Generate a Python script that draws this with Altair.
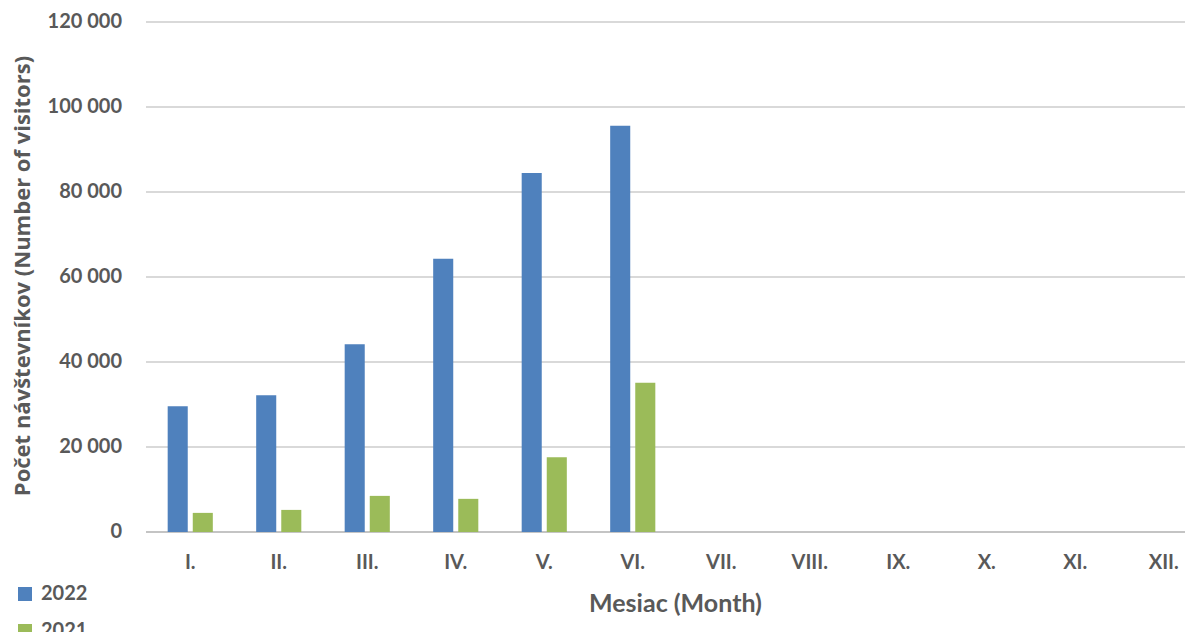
import altair as alt
import pandas as pd

months = ["I.", "II.", "III.", "IV.", "V.", "VI.", "VII.", "VIII.", "IX.", "X.", "XI.", "XII."]
series = ["2022", "2021"]
v2022 = [29600, 32200, 44200, 64300, 84500, 95600]
v2021 = [4500, 5200, 8500, 7800, 17600, 35100]
colors = ["#4F81BD", "#9BBB59"]
y_ticks = [0, 20000, 40000, 60000, 80000, 100000, 120000]
y_title = "Počet návštevníkov (Number of visitors)"
x_title = "Mesiac (Month)"

rows = []
for m, v in zip(months, v2022):
    rows.append({"Mesiac": m, "Rok": "2022", "Pocet": v})
for m, v in zip(months, v2021):
    rows.append({"Mesiac": m, "Rok": "2021", "Pocet": v})
df = pd.DataFrame(rows)
grid_df = pd.DataFrame({"Pocet": y_ticks})
title_df = pd.DataFrame({"t": [y_title]})

grey = "#595959"
yscale = alt.Scale(domain=[0, 120000])

grid = alt.Chart(grid_df).mark_rule(strokeWidth=2).encode(
    y=alt.Y("Pocet:Q", scale=yscale, axis=None),
    x=alt.value(0),
    x2=alt.value(1062),
    color=alt.condition("datum.Pocet == 0", alt.value("#c4c4c4"), alt.value("#d9d9d9")),
)

ylabels = alt.Chart(grid_df).transform_calculate(
    lab="replace(format(datum.Pocet, ',d'), ',', ' ')"
).mark_text(
    align="right", baseline="middle", font="Lato", fontSize=20, fontWeight="bold", color=grey
).encode(
    y=alt.Y("Pocet:Q", scale=yscale, axis=None),
    x=alt.value(-24),
    text="lab:N",
)

ytitle = alt.Chart(title_df).mark_text(
    angle=270, align="center", baseline="middle", font="Open Sans",
    fontSize=22, fontWeight="bold", color=grey
).encode(
    x=alt.value(-123),
    y=alt.value(254),
    text="t:N",
)

bars = alt.Chart(df).mark_bar().encode(
    x=alt.X(
        "Mesiac:N",
        sort=months,
        scale=alt.Scale(domain=months, range=[0, 1062], paddingInner=0.49, paddingOuter=0.245),
        axis=alt.Axis(
            title=x_title,
            labelAngle=0,
            labelFont="Lato",
            labelFontSize=20,
            labelFontWeight="bold",
            labelColor=grey,
            labelPadding=20,
            ticks=False,
            grid=False,
            domain=False,
            titleFont="Lato",
            titleFontSize=25,
            titleFontWeight="bold",
            titleColor=grey,
            titleX=529,
            titleY=71,
            titleAlign="center",
            titleBaseline="middle",
        ),
    ),
    xOffset=alt.XOffset(
        "Rok:N",
        sort=series,
        scale=alt.Scale(domain=series, paddingInner=0.2, paddingOuter=0),
    ),
    y=alt.Y("Pocet:Q", scale=yscale, axis=None),
    color=alt.Color(
        "Rok:N",
        sort=series,
        scale=alt.Scale(domain=series, range=colors),
        legend=alt.Legend(
            title=None,
            orient="none",
            legendX=-131,
            legendY=562,
            direction="vertical",
            symbolType="square",
            symbolSize=196,
            symbolStrokeWidth=0,
            labelFont="Lato",
            labelFontSize=20,
            labelFontWeight="bold",
            labelColor=grey,
            labelOffset=6,
            rowPadding=17,
            padding=0,
        ),
    ),
)

chart = alt.layer(grid, ylabels, ytitle, bars).properties(
    width=1039,
    height=510,
    autosize=alt.AutoSizeParams(type="none"),
    padding={"left": 138, "top": 14, "right": 0, "bottom": 100},
).configure(
    background="white",
    view=alt.ViewConfig(stroke="transparent", strokeWidth=0),
    legend=alt.LegendConfig(labelFontWeight="bold", labelFont="Lato", labelFontSize=20),
)

chart.save("out.html", embed_options={"renderer": "svg", "actions": False})
